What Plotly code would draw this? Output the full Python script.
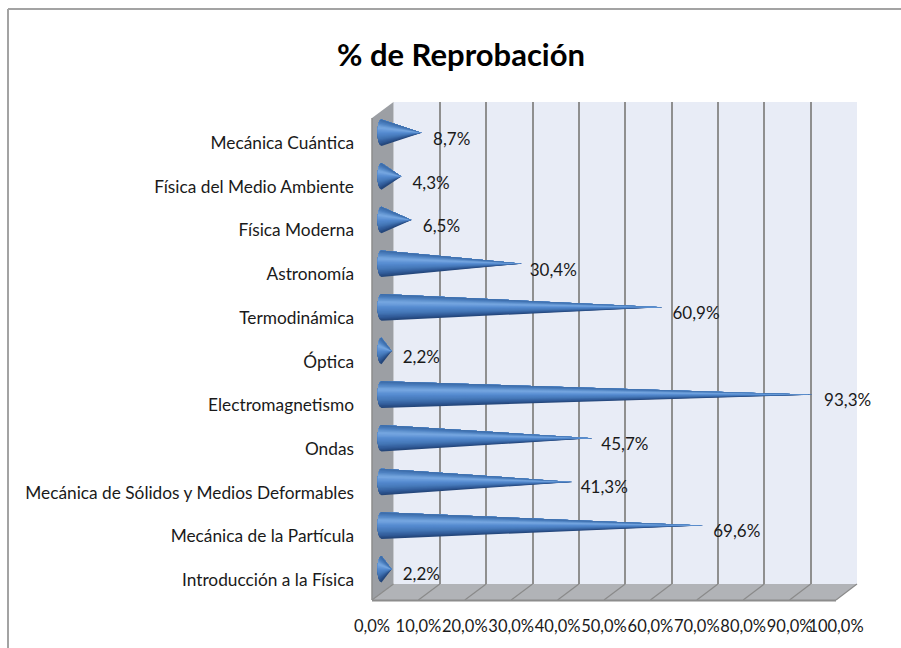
import plotly.graph_objects as go
import numpy as np

title = "% de Reprobación"
categories = ["Introducción a la Física", "Mecánica de la Partícula",
              "Mecánica de Sólidos y Medios Deformables", "Ondas", "Electromagnetismo",
              "Óptica", "Termodinámica", "Astronomía", "Física Moderna",
              "Física del Medio Ambiente", "Mecánica Cuántica"]
values = [2.2, 69.6, 41.3, 45.7, 93.3, 2.2, 60.9, 30.4, 6.5, 4.3, 8.7]
x_ticks = [0, 10, 20, 30, 40, 50, 60, 70, 80, 90, 100]
x_tick_labels = ["0,0%", "10,0%", "20,0%", "30,0%", "40,0%", "50,0%", "60,0%", "70,0%", "80,0%", "90,0%", "100,0%"]

W, H = 901, 648
FONT = "Lato, Carlito, Calibri, sans-serif"
TXT = "#1a1a1a"
px = lambda a: a / W
py = lambda b: 1 - b / H
dx = lambda a, b: [px(a), px(b)]
dy = lambda top, bottom: [py(bottom), py(top)]

fig = go.Figure()

# Cones: nested fans from the tip to the base ellipse, painted bottom shade first, so no seams show
stops = [0, 0.12, 0.3, 0.5, 0.7, 0.88, 1]
reds = [0x22, 0x2f, 0x45, 0x55, 0x78, 0x4c, 0x3a]
greens = [0x42, 0x59, 0x78, 0x8a, 0xa9, 0x7f, 0x69]
blues_ = [0x74, 0x96, 0xb8, 0xd0, 0xe2, 0xbf, 0xa6]
half = 0.305
rx = 0.87
bands = 20
edges = np.linspace(-1, 1, bands + 1)
for i in range(bands):
    s0, s1 = edges[i], edges[i + 1]
    t = (s0 + s1) / 4 + 0.5
    col = "rgb({:.0f},{:.0f},{:.0f})".format(np.interp(t, stops, reds), np.interp(t, stops, greens), np.interp(t, stops, blues_))
    arc = np.linspace(s0, 1, 25)
    xs, ys = [], []
    for v, c in zip(values, range(len(categories))):
        xs += [v] + list(-rx * np.sqrt(1 - arc ** 2)) + [v, None]
        ys += [c] + list(c + half * arc) + [c, None]
    fig.add_trace(go.Scatter(x=xs, y=ys, xaxis="x2", yaxis="y2", mode="none",
                             fill="toself", fillcolor=col,
                             hoverinfo="skip", showlegend=False))

# Data labels
fig.add_trace(go.Scatter(x=values, y=list(range(len(categories))), xaxis="x3", yaxis="y3",
                         mode="text", text=[f"{v:.1f}%".replace(".", ",") for v in values],
                         textposition="middle center", cliponaxis=False,
                         textfont=dict(family=FONT, size=17, color=TXT),
                         hoverinfo="skip", showlegend=False))

# Axis carriers for labels
fig.add_trace(go.Scatter(x=x_ticks, y=[0] * len(x_ticks), xaxis="x4", yaxis="y4", mode="markers",
                         marker=dict(opacity=0), hoverinfo="skip", showlegend=False))
fig.add_trace(go.Scatter(x=x_ticks, y=[0] * len(x_ticks), xaxis="x", yaxis="y", mode="markers",
                         marker=dict(opacity=0), hoverinfo="skip", showlegend=False))

hidden = dict(visible=False, fixedrange=True)
n = len(categories)

shapes = []
def poly(pts, fill, line=None, lw=0):
    d = "M" + " L".join(f"{px(a):.5f},{py(b):.5f}" for a, b in pts) + " Z"
    shapes.append(dict(type="path", path=d, xref="paper", yref="paper", layer="below",
                       fillcolor=fill, line=dict(color=line or fill, width=lw)))
def seg(a0, b0, a1, b1, color, lw):
    shapes.append(dict(type="line", xref="paper", yref="paper", layer="below",
                       x0=px(a0), y0=py(b0), x1=px(a1), y1=py(b1), line=dict(color=color, width=lw)))

# Chart frame
seg(8, 9, 901, 9, "#a3a3a3", 2)
seg(8, 9, 8, 648, "#a3a3a3", 2)
# Walls and floor
poly([(393.5, 102), (857, 102), (857, 584), (393.5, 584)], "#e8ecf6")
poly([(372, 118), (393.5, 102), (393.5, 584), (372, 600)], "#9c9fa4")
poly([(372, 600), (836, 600), (857, 584), (393.5, 584)], "#b1b3b7")
for t in x_ticks:
    f = t / 100
    seg(372 + 464 * f, 600, 393.5 + 463.5 * f, 584, "#8a8a8a", 1.2)
seg(372, 600.5, 836, 600.5, "#8c8c8c", 2)
seg(372, 118, 372, 600, "#8c8c8c", 1.5)

fig.update_layout(
    width=W, height=H, margin=dict(l=0, r=0, t=0, b=0, autoexpand=False),
    paper_bgcolor="white", plot_bgcolor="rgba(0,0,0,0)",
    showlegend=False, shapes=shapes,
    title=dict(text=f"<b>{title}</b>", x=461 / W, xanchor="center", y=py(55), yanchor="middle",
               font=dict(family=FONT, size=31, color="#000000")),
    # back wall grid
    xaxis=dict(domain=dx(393.5, 857), range=[0, 100], tickvals=x_ticks, showgrid=True,
               gridcolor="#8f8f8f", gridwidth=2, showticklabels=False, zeroline=False, ticks="", fixedrange=True),
    yaxis=dict(domain=dy(102, 584), range=[0, 1], showgrid=False, zeroline=False,
               showticklabels=False, ticks="", fixedrange=True),
    # cones (axis starts below zero so that the rounded base is inside the plot area)
    xaxis2=dict(domain=dx(381.5 - 3 * 4.62, 843.5), range=[-3, 100], anchor="y2", **hidden),
    yaxis2=dict(domain=dy(110.9, 591.1), range=[-0.5, n - 0.5], anchor="x2", **hidden),
    # data labels
    xaxis3=dict(domain=dx(411, 879), range=[0, 100], anchor="y3", **hidden),
    yaxis3=dict(domain=dy(119.25, 597.75), range=[-0.5, n - 0.5], anchor="x3", **hidden),
    # visible tick labels
    xaxis4=dict(domain=dx(372, 836), range=[0, 100], anchor="y4", tickvals=x_ticks, ticktext=x_tick_labels,
                showgrid=False, zeroline=False, showline=False, ticks="", ticklabelstandoff=13,
                tickangle=0, tickfont=dict(family=FONT, size=16.5, color=TXT), fixedrange=True),
    yaxis4=dict(domain=dy(121.15, 601.85), range=[-0.5, n - 0.5], anchor="x4",
                tickvals=list(range(n)), ticktext=categories, showgrid=False, zeroline=False, showline=False,
                ticks="", ticklabelstandoff=17, tickfont=dict(family=FONT, size=17.3, color=TXT), fixedrange=True),
)

fig.write_html("out.html", post_script="document.body.style.margin='0';", config=dict(displayModeBar=False))
